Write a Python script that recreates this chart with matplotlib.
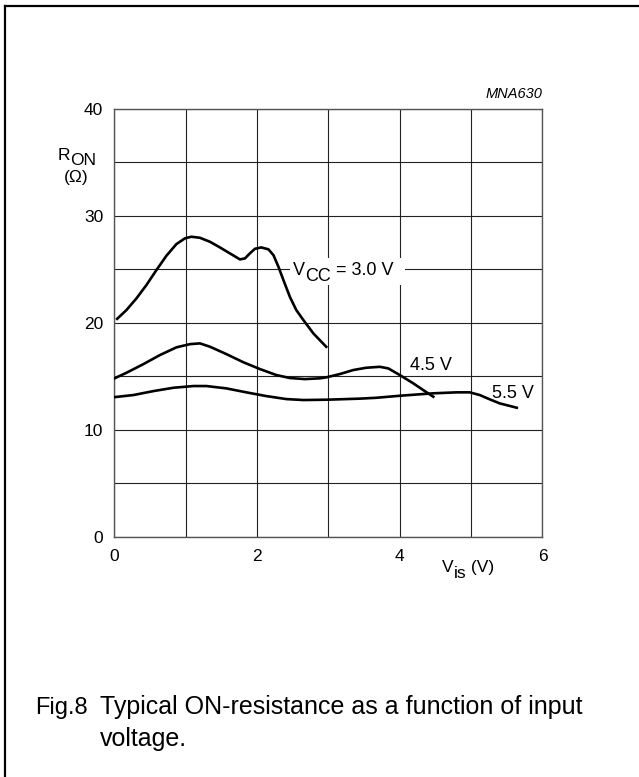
import matplotlib.pyplot as plt
from matplotlib.lines import Line2D
from matplotlib.patches import Rectangle

plt.rcParams['font.family'] = ['Liberation Sans', 'DejaVu Sans']

# V_is (V) and R_ON (ohm)
v_30 = [0.04, 0.17, 0.31, 0.45, 0.59, 0.73, 0.87, 0.99, 1.08, 1.20, 1.34, 1.48, 1.62, 1.76, 1.83,
        1.90, 1.97, 2.06, 2.16, 2.23, 2.30, 2.37, 2.46, 2.55, 2.65, 2.79, 2.97]
r_30 = [20.37, 21.19, 22.28, 23.53, 24.93, 26.27, 27.36, 27.9, 28.05, 27.95, 27.58, 27.05, 26.49, 25.93, 26.02,
        26.49, 26.92, 27.05, 26.87, 26.33, 25.24, 23.99, 22.43, 21.19, 20.25, 19.0, 17.75]

v_45 = [0.0, 0.17, 0.41, 0.64, 0.87, 1.06, 1.20, 1.34, 1.57, 1.81, 2.04, 2.27, 2.46, 2.67, 2.88, 2.97,
        3.16, 3.35, 3.53, 3.72, 3.84, 4.0, 4.19, 4.33, 4.47]
r_45 = [14.79, 15.32, 16.14, 16.98, 17.7, 18.0, 18.07, 17.76, 17.07, 16.3, 15.67, 15.11, 14.83, 14.73, 14.8, 14.89,
        15.2, 15.58, 15.79, 15.88, 15.73, 15.11, 14.33, 13.7, 13.08]

v_55 = [0.0, 0.27, 0.55, 0.83, 1.11, 1.29, 1.57, 1.85, 2.13, 2.41, 2.65, 2.97, 3.44, 3.67, 4.0, 4.47,
        4.80, 4.98, 5.12, 5.26, 5.40, 5.64]
r_55 = [13.04, 13.24, 13.61, 13.92, 14.08, 14.08, 13.86, 13.49, 13.14, 12.86, 12.77, 12.8, 12.9, 12.98, 13.17, 13.4,
        13.49, 13.49, 13.24, 12.84, 12.46, 12.05]

x_labels = [0, 2, 4, 6]
y_labels = [0, 10, 20, 30, 40]

fig = plt.figure(figsize=(6.39, 7.77), dpi=100)
ax = fig.add_axes([0.1789, 0.3095, 0.670, 0.5502])

ax.set_xlim(0, 6)
ax.set_ylim(0, 40)
ax.set_xticks(x_labels)
ax.set_xticks([1, 3, 5], minor=True)
ax.set_yticks(y_labels)
ax.set_yticks([5, 15, 25, 35], minor=True)
ax.tick_params(which='both', length=0, labelsize=12.5)
ax.tick_params(axis='x', pad=9)
ax.tick_params(axis='y', pad=8)
ax.grid(True, which='both', color='#222222', linewidth=0.8)
for s in ax.spines.values():
    s.set_color('#555555')
    s.set_linewidth(1.0)

# white patch behind the 3.0 V label
ax.add_patch(Rectangle((2.46, 23.5), 1.61, 2.55, facecolor='white', edgecolor='none', zorder=2.5))

for v, r in [(v_30, r_30), (v_45, r_45), (v_55, r_55)]:
    ax.plot(v, r, color='black', linewidth=1.9, zorder=3, solid_joinstyle='round')


def sub_text(x, y, base, sub, rest='', size=12.5, drop=4.5):
    t1 = ax.text(x, y, base, fontsize=size, va='baseline', ha='left', zorder=4)
    t2 = ax.annotate(sub, xy=(1, 0), xycoords=t1, xytext=(0, -drop), textcoords='offset points',
                     va='bottom', ha='left', fontsize=size, zorder=4, annotation_clip=False)
    if rest:
        ax.annotate(rest, xy=(1, 0), xycoords=t2, xytext=(0, drop), textcoords='offset points',
                    va='bottom', ha='left', fontsize=size, zorder=4, annotation_clip=False)


sub_text(2.51, 24.45, 'V', 'CC', ' = 3.0 V', size=13, drop=4.5)
ax.text(4.14, 15.58, '4.5 V', fontsize=13, va='baseline', zorder=4)
ax.text(5.30, 12.93, '5.5 V', fontsize=13, va='baseline', zorder=4)

# axis titles
sub_text(-0.80, 35.2, 'R', 'ON', drop=3.5)
ax.text(-0.54, 33.2, '(Ω)', fontsize=12.5, va='baseline', ha='center')
sub_text(4.59, -3.3, 'V', 'is', ' (V)', drop=4.5)
ax.text(1.0, 1.026, 'MNA630', fontsize=10.5, style='italic', ha='right', va='baseline', transform=ax.transAxes)

# caption
fig.text(35 / 639, 1 - 714 / 777, 'Fig.8', fontsize=17, va='baseline')
fig.text(100 / 639, 1 - 714 / 777, 'Typical ON-resistance as a function of input', fontsize=18, va='baseline')
fig.text(100 / 639, 1 - 746 / 777, 'voltage.', fontsize=18, va='baseline')

# frame on top and left
fig.add_artist(Line2D([4.5 / 639, 1], [1 - 6 / 777, 1 - 6 / 777], color='black', linewidth=1.6, transform=fig.transFigure))
fig.add_artist(Line2D([4.5 / 639, 4.5 / 639], [0, 1 - 6 / 777], color='black', linewidth=1.6, transform=fig.transFigure))

fig.savefig('out.png', dpi=100)
